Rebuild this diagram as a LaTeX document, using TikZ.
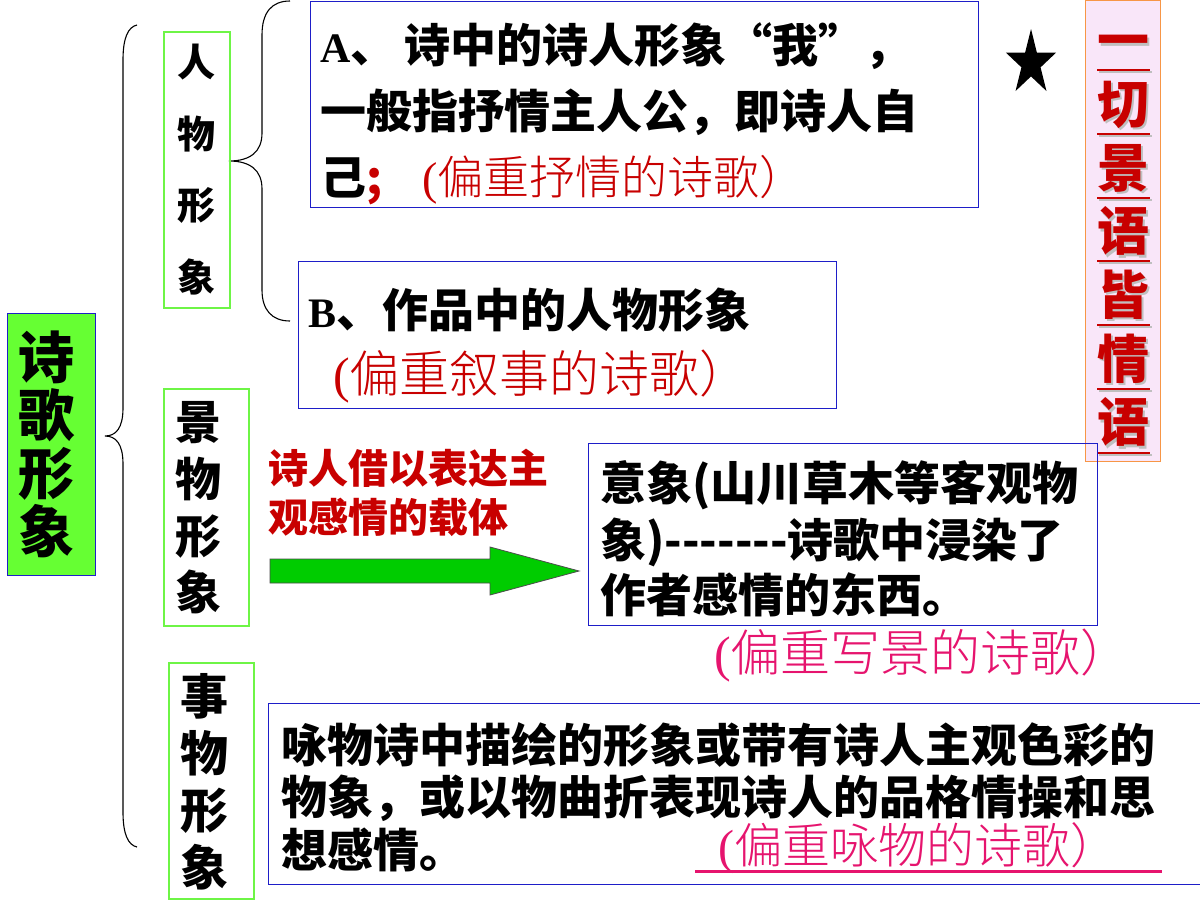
\documentclass[tikz,border=0pt]{standalone}
\usepackage{fontspec}
\IfFontExistsTF{Noto Sans CJK SC Black}
  {\setmainfont{Noto Sans CJK SC}[BoldFont={Noto Sans CJK SC Black}]}
  {\setmainfont{Noto Sans CJK SC}[BoldFeatures={FakeBold=1.5}]}
\IfFontExistsTF{Noto Sans CJK SC Light}
  {\newfontfamily\thinf{Noto Sans CJK SC Light}}
  {\newfontfamily\thinf{Noto Sans CJK SC}}
\newfontfamily\tnr{Liberation Serif}
\definecolor{bblue}{RGB}{30,30,200}
\definecolor{vgreen}{RGB}{110,245,70}
\definecolor{lgreen}{RGB}{102,255,51}
\definecolor{tred}{RGB}{200,0,0}
\definecolor{tpink}{RGB}{230,20,110}
\definecolor{pfill}{RGB}{249,230,249}
\definecolor{porange}{RGB}{247,150,70}
\definecolor{agreen}{RGB}{0,204,0}
\newcommand\myfs[2]{\fontsize{#1}{#2}\selectfont}
\begin{document}
\begin{tikzpicture}[x=1pt,y=-1pt,
  box/.style={draw=bblue, line width=1.2pt, inner sep=0pt, anchor=north west},
  vbox/.style={draw=vgreen, line width=1.6pt, inner sep=0pt, anchor=north west},
  ln/.style={anchor=base west, inner sep=0pt, font=\bfseries\myfs{46}{46}},
  vt/.style={inner sep=0pt, align=center},
  brace/.style={line width=1.1pt, black}]
\useasboundingbox (0,0) rectangle (1200,900);
\fill[white] (0,0) rectangle (1200,900);

% braces
\draw[brace] (137,25) .. controls (128,27) and (123,38) .. (123,60) -- (123,408)
  .. controls (123,428) and (116,436) .. (105,436)
  .. controls (116,436) and (123,444) .. (123,464) -- (123,812)
  .. controls (123,834) and (128,845) .. (137,847);
\draw[brace] (290,1) .. controls (272,1) and (262,12) .. (262,35) -- (262,133)
  .. controls (262,152) and (250,161) .. (229,161)
  .. controls (250,161) and (262,170) .. (262,189) -- (262,290)
  .. controls (262,310) and (272,321) .. (290,321);

% root box
\node[box, fill=lgreen, minimum width=88, minimum height=262] (root) at (7,313) {};
\node[vt, font=\bfseries\myfs{56}{58}] (rootT) at (46,444) {诗\\歌\\形\\象};

% category boxes
\node[vbox, minimum width=66, minimum height=276] (renwu) at (163,31) {};
\node[vt, font=\bfseries\myfs{38}{71.7}] (renwuT) at (196,169.5) {人\\物\\形\\象};
\node[vbox, minimum width=85, minimum height=237] (jingwu) at (163,388) {};
\node[vt, font=\bfseries\myfs{46}{56.7}] (jingwuT) at (198,508) {景\\物\\形\\象};
\node[vbox, minimum width=85, minimum height=236] (shiwu) at (168,662) {};
\node[vt, font=\bfseries\myfs{48}{57}] (shiwuT) at (204,782) {事\\物\\形\\象};

% box A
\node[box, minimum width=668, minimum height=206] (boxA) at (310,1) {};
\node[ln] (a1) at (320,62) {{\tnr\bfseries\myfs{42}{42}A}、\hspace{8pt}诗中的诗人形象“我”，};
\node[ln] (a2) at (320,128) {一般指抒情主人公，即诗人自};
\node[ln] (a3) at (320,194) {己\textcolor{tred}{;\hspace{40pt}\mdseries{\tnr (}\thinf 偏重抒情的诗歌）}};

% box B
\node[box, minimum width=538, minimum height=147] (boxB) at (298,261) {};
\node[ln] (b1) at (308,327) {{\tnr\bfseries\myfs{42}{42}B}、作品中的人物形象};
\node[ln, font=\thinf\myfs{50}{50}, text=tred] (b2) at (333,392) {{\tnr (}偏重叙事的诗歌）};

% star
\fill[shift={(1031,63.3)}, xscale=26.3, yscale=-34.3]
  (90:1) -- (126:0.382) -- (162:1) -- (198:0.382) -- (234:1) -- (270:0.382)
  -- (306:1) -- (342:0.382) -- (18:1) -- (54:0.382) -- cycle;

% right box
\node[draw=porange, line width=1.2pt, fill=pfill, anchor=north west, inner sep=0pt,
  minimum width=75, minimum height=461] (rbox) at (1085,0) {};
\node[vt, font=\bfseries\myfs{52}{63.7}, text=gray!50] (rshadow) at (1125.5,243.5) {一\\切\\景\\语\\皆\\情\\语};
\foreach \i in {0,...,6} {
  \draw[gray!50, line width=2pt] (1099,72+63.8*\i) -- (1152,72+63.8*\i);
}
\node[vt, font=\bfseries\myfs{52}{63.7}, text=tred] (rtext) at (1123,241) {一\\切\\景\\语\\皆\\情\\语};
\foreach \i in {0,...,6} {
  \draw[tred, line width=2pt] (1097,70+63.8*\i) -- (1150,70+63.8*\i);
}

% label + arrow
\node[ln, font=\bfseries\myfs{40}{40}, text=tred] (lab1) at (268,483) {诗人借以表达主};
\node[ln, font=\bfseries\myfs{40}{40}, text=tred] (lab2) at (268,532) {观感情的载体};
\filldraw[fill=agreen, draw=black!70, line width=0.8pt]
  (270,559) -- (490,559) -- (490,547) -- (579,571) -- (490,595) -- (490,583) -- (270,583) -- cycle;

% middle box
\node[box, minimum width=509, minimum height=182] (boxM) at (588,443) {};
\node[ln] (m1) at (600,500) {意象(山川草木等客观物};
\node[ln] (m2) at (600,557) {象)-\kern0pt-\kern0pt-\kern0pt-\kern0pt-\kern0pt-\kern0pt-诗歌中浸染了};
\node[ln] (m3) at (600,612) {作者感情的东西。};
\node[ln, font=\thinf\myfs{50}{50}, text=tpink] (m4) at (714,671) {{\tnr (}偏重写景的诗歌）};

% bottom box
\node[box, minimum width=940, minimum height=181] (boxT) at (268,703) {};
\node[ln] (t1) at (281,762) {咏物诗中描绘的形象或带有诗人主观色彩的};
\node[ln] (t2) at (281,814) {物象，或以物曲折表现诗人的品格情操和思};
\node[ln] (t3) at (281,867) {想感情。};
\node[ln, font=\thinf\myfs{48}{48}, text=tpink] (t4) at (718,863) {{\tnr (}偏重咏物的诗歌）};
\draw[tpink, line width=3pt] (695,871) -- (1162,871);
\end{tikzpicture}
\end{document}
